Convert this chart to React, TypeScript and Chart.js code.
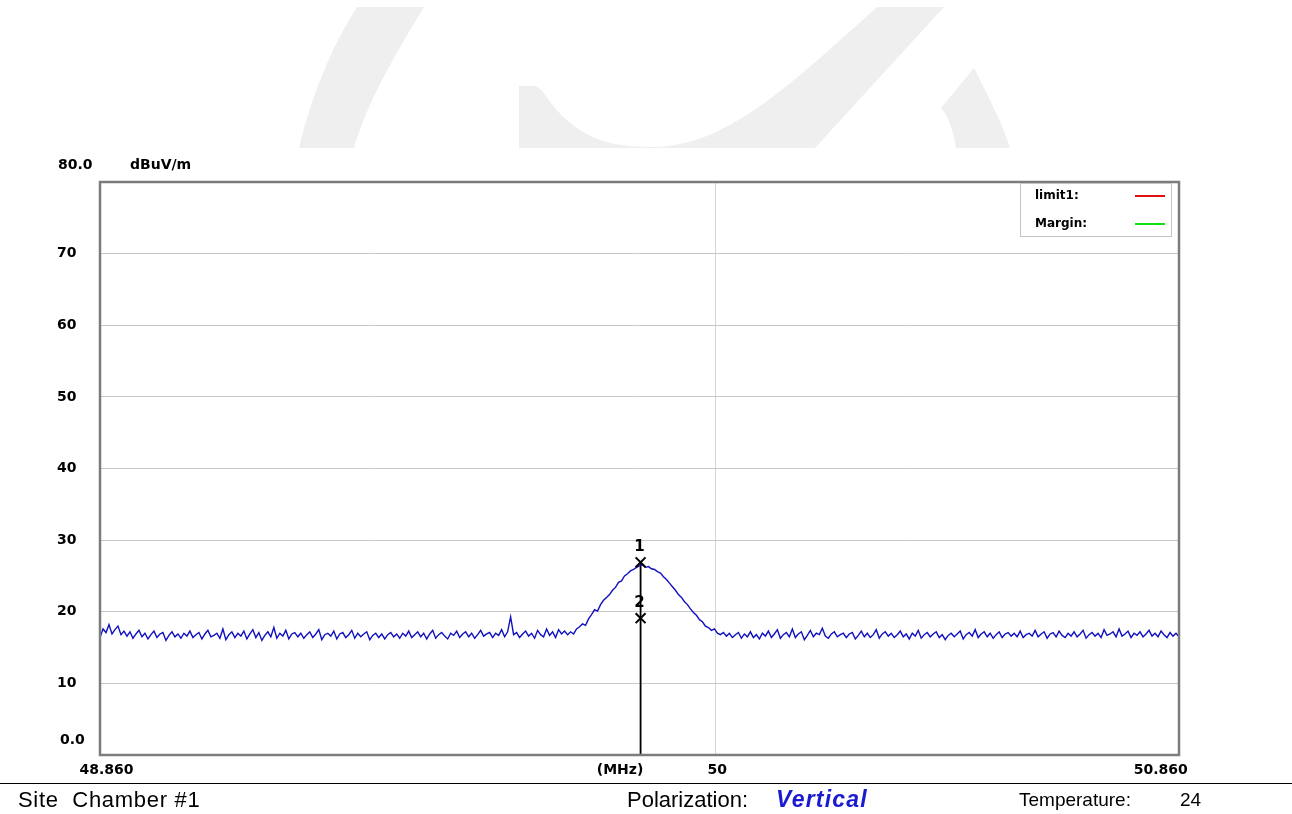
import React, { useEffect, useRef } from "react";
import { Chart, registerables } from "chart.js";

Chart.register(...registerables);

// ---- data ----
const FREQ_START = 48.86;
const FREQ_STOP = 50.86;
const FREQ_GRID = [50];
const X_TICK_LABELS = ["48.860", "(MHz)", "50", "50.860"];
const X_TICK_VALUES = [48.872, 49.824, 50.004, 50.826];
const Y_MIN = 0;
const Y_MAX = 80;
const Y_STEP = 10;
const Y_END_LABELS = ["0.0", "80.0"];
const Y_UNIT = "dBuV/m";

const LEVELS_LEFT = [
  16.4, 17.6, 17.1, 18.2, 16.9, 17.5, 18.0, 16.8, 17.3, 16.6,
  17.2, 16.3, 16.9, 17.4, 16.5, 17.0, 16.2, 16.8, 17.3, 16.4,
  16.9, 17.1, 16.0, 16.7, 17.2, 16.5, 16.9, 16.3, 17.0, 16.6,
  17.3, 16.4, 16.8, 17.1, 16.2, 16.9, 17.4, 16.5, 16.7, 17.0,
  16.3, 17.6, 16.1, 16.8, 17.2, 16.4, 17.0, 16.6, 17.3, 16.2,
  16.9, 17.5, 16.4, 17.1, 16.0, 16.7, 17.2, 16.5, 17.8, 16.3,
  17.0, 16.6, 17.4, 16.2, 16.9, 17.1, 16.5, 17.0, 16.3, 16.8,
  17.2, 16.4, 16.9, 17.5, 16.1, 16.8, 17.0, 16.6, 17.3, 16.2,
  16.9, 17.1, 16.4, 16.8, 17.4, 16.3, 17.0, 16.5, 16.9, 17.2,
  16.1, 16.7, 17.0, 16.4, 16.9, 16.2, 16.8, 17.1, 16.5, 16.9,
  16.3, 17.0, 16.6, 17.3, 16.4, 16.8, 17.2, 16.5, 17.0, 16.2,
  16.9, 17.4, 16.3, 16.8, 17.1, 16.6, 16.2, 17.0, 16.7, 17.3,
  16.4, 16.9, 17.2, 16.5, 17.0, 16.3, 16.8, 17.4, 16.6, 16.9,
  17.1, 16.4, 17.0, 16.7, 17.5, 16.5, 17.2, 19.3, 16.8, 17.1,
  16.4, 16.9, 17.3, 16.6, 17.0, 16.3, 17.4, 16.8, 16.5, 17.6,
  16.7, 17.2, 16.4, 17.5, 16.9, 17.3,
];

const LEVELS_PEAK = [
  16.8, 17.2, 16.9, 17.6, 17.9, 18.3, 18.1, 19.0, 19.6, 20.3,
  20.1, 21.0, 21.6, 22.0, 22.4, 23.0, 23.4, 24.1, 24.3, 25.0,
  25.3, 25.7, 25.9, 26.2, 26.4, 26.6, 26.2, 26.3, 26.0, 25.9,
  25.6, 25.4, 24.9, 24.5, 24.0, 23.5, 23.0, 22.4, 22.0, 21.4,
  21.0, 20.4, 19.9, 19.5, 18.9, 18.6, 18.0, 17.8, 17.4, 17.6,
  17.0, 16.8, 17.1,
];

const LEVELS_RIGHT = [
  16.6, 17.0, 16.4, 16.8, 17.1, 16.3, 16.9, 16.5, 17.2, 16.4,
  16.8, 16.2, 17.0, 16.6, 17.3, 16.4, 16.9, 17.5, 16.3, 16.8,
  17.1, 16.5, 17.6, 16.4, 16.9, 17.2, 16.1, 16.7, 17.4, 16.5,
  17.0, 16.8, 17.7, 16.6, 16.3, 16.9, 17.2, 16.5, 16.8, 17.0,
  16.4, 16.9, 17.1, 16.2, 16.7, 17.3, 16.5, 17.0, 16.4, 16.8,
  17.5, 16.3, 16.9, 17.2, 16.6, 17.0, 16.4, 16.8, 17.3, 16.5,
  16.9, 16.2, 17.0, 16.6, 17.4, 16.3, 16.8, 17.1, 16.5, 16.9,
  17.2, 16.4, 16.8, 16.1, 16.7, 17.0, 16.5, 16.9, 17.3, 16.2,
  16.8, 17.1, 16.6, 17.5, 16.4, 16.9, 17.2, 16.5, 17.0, 16.3,
  16.8, 17.2, 16.4, 16.9, 17.1, 16.6, 17.0, 16.5, 17.3, 16.4,
  16.8, 17.0, 16.6, 17.4, 16.5, 16.9, 17.2, 16.3, 16.9, 17.1,
  16.5, 17.3, 16.7, 16.4, 17.0, 16.6, 17.2, 16.5, 16.9, 17.4,
  16.3, 16.8, 17.1, 16.6, 17.0, 16.4, 17.5, 16.7, 16.9, 17.2,
  16.5, 17.6, 16.6, 16.9, 17.3, 16.4, 17.0, 16.7, 17.2, 16.5,
  16.9, 17.4, 16.6, 17.0, 16.5, 17.3, 16.8, 16.4, 17.1, 16.6,
  17.0, 16.5,
];

const MARKER_NAMES = ["1", "2"];
const MARKER_FREQ = [49.862, 49.862];
const MARKER_LEVEL = [26.9, 19.1];

const LEGEND_NAMES = ["limit1:", "Margin:"];
const LEGEND_COLORS = ["#e01010", "#10e010"];

const FOOTER = {
  site: "Site  Chamber #1",
  polLabel: "Polarization:",
  polValue: "Vertical",
  tempLabel: "Temperature:",
  tempValue: "24",
};

const TRACE_COLOR = "#1010c0";
const AXIS_FONT = 'bold 14px "DejaVu Sans"';

function buildTrace() {
  const levels = [...LEVELS_LEFT, ...LEVELS_PEAK, ...LEVELS_RIGHT];
  const n = levels.length;
  const step = (FREQ_STOP - FREQ_START) / (n - 1);
  return levels.map((y, i) => ({ x: FREQ_START + i * step, y }));
}

const decorPlugin = {
  id: "decor",
  afterDraw(chart: any) {
    const { ctx, chartArea: a, scales } = chart;
    const xs = scales.x;
    const ys = scales.y;
    ctx.save();
    // frame
    ctx.strokeStyle = "#7c7c7c";
    ctx.lineWidth = 2.5;
    ctx.strokeRect(a.left, a.top, a.right - a.left, a.bottom - a.top);

    // y end labels + unit
    ctx.fillStyle = "#000";
    ctx.font = AXIS_FONT;
    ctx.textBaseline = "middle";
    ctx.textAlign = "left";
    ctx.fillText(Y_END_LABELS[1], 58, ys.getPixelForValue(Y_MAX) - 17);
    ctx.fillText(Y_END_LABELS[0], 60, ys.getPixelForValue(Y_MIN) - 15);
    ctx.fillText(Y_UNIT, 130, ys.getPixelForValue(Y_MAX) - 17);

    // x labels
    ctx.textAlign = "center";
    X_TICK_LABELS.forEach((lab, i) => {
      ctx.fillText(lab, xs.getPixelForValue(X_TICK_VALUES[i]), a.bottom + 15);
    });

    // marker numbers
    ctx.font = 'bold 15px "DejaVu Sans"';
    MARKER_NAMES.forEach((name, i) => {
      const px = xs.getPixelForValue(MARKER_FREQ[i]);
      const py = ys.getPixelForValue(MARKER_LEVEL[i]);
      ctx.fillText(name, px - 1, py - 15);
    });

    // legend box
    const bx = a.right - 159;
    const by = a.top + 1;
    ctx.strokeStyle = "#c4c4c4";
    ctx.lineWidth = 1;
    ctx.strokeRect(bx + 0.5, by + 0.5, 151, 53);
    ctx.font = 'bold 12px "DejaVu Sans"';
    ctx.textAlign = "left";
    LEGEND_NAMES.forEach((name, i) => {
      const ly = by + 13 + i * 28;
      ctx.fillStyle = "#000";
      ctx.fillText(name, bx + 15, ly);
      ctx.strokeStyle = LEGEND_COLORS[i];
      ctx.lineWidth = 2;
      ctx.beginPath();
      ctx.moveTo(bx + 115, ly);
      ctx.lineTo(bx + 145, ly);
      ctx.stroke();
    });
    ctx.restore();
  },
};

function Watermark() {
  return (
    <svg
      width={1292}
      height={150}
      style={{ position: "absolute", left: 0, top: 0 }}
    >
      <g fill="#efefef">
        <path d="M 357 7 L 424 7 C 395 55, 368 100, 354 148 L 299 148 C 312 95, 330 50, 357 7 Z" />
        <path d="M 519 86 L 534 86 C 538 87, 541 89, 543 92 C 575 140, 610 147, 653 147 C 730 147, 800 75, 877 7 L 944 7 L 815 148 L 519 148 Z" />
        <path d="M 974 68 C 990 100, 1003 125, 1010 148 L 956 148 C 953 130, 948 115, 941 108 Z" />
      </g>
    </svg>
  );
}

export default function App() {
  const canvasRef = useRef<HTMLCanvasElement | null>(null);

  useEffect(() => {
    const canvas = canvasRef.current;
    if (!canvas) return;
    const trace = buildTrace();
    const markerPts = MARKER_FREQ.map((f, i) => ({ x: f, y: MARKER_LEVEL[i] }));
    const chart = new Chart(canvas, {
      type: "line",
      data: {
        datasets: [
          {
            label: "marker line",
            data: [
              { x: MARKER_FREQ[0], y: MARKER_LEVEL[0] },
              { x: MARKER_FREQ[0], y: Y_MIN },
            ],
            borderColor: "#000",
            borderWidth: 1.8,
            pointRadius: 0,
            order: 2,
          },
          {
            label: "trace",
            data: trace,
            borderColor: TRACE_COLOR,
            borderWidth: 1.4,
            pointRadius: 0,
            tension: 0,
            order: 1,
          },
          {
            label: "markers",
            data: markerPts,
            showLine: false,
            pointStyle: "crossRot",
            pointRadius: 7,
            pointBorderWidth: 2,
            pointBorderColor: "#000",
            pointBackgroundColor: "#000",
            order: 0,
          },
        ],
      },
      options: {
        animation: false,
        responsive: false,
        devicePixelRatio: 1,
        layout: { padding: { left: 57, top: 182, right: 113, bottom: 59 } },
        plugins: {
          legend: { display: false },
          tooltip: { enabled: false },
        },
        scales: {
          x: {
            type: "linear",
            min: FREQ_START,
            max: FREQ_STOP,
            afterBuildTicks: (axis: any) => {
              axis.ticks = FREQ_GRID.map((v) => ({ value: v }));
            },
            afterFit: (axis: any) => {
              axis.height = 0;
            },
            ticks: { display: false },
            grid: { color: "#d6d6d6", drawTicks: false, lineWidth: 1 },
            border: { display: false },
          },
          y: {
            min: Y_MIN,
            max: Y_MAX,
            afterFit: (axis: any) => {
              axis.width = 43;
            },
            ticks: {
              stepSize: Y_STEP,
              crossAlign: "far",
              color: "#000",
              font: { family: "DejaVu Sans", size: 14, weight: "bold" },
              callback: (v: any) => (v === Y_MIN || v === Y_MAX ? "" : String(v)),
            },
            grid: { color: "#c8c8c8", drawTicks: false, lineWidth: 1 },
            border: { display: false },
          },
        },
      },
      plugins: [decorPlugin],
    } as any);
    return () => chart.destroy();
  }, []);

  const footerFont = '"Liberation Sans", Arial, sans-serif';
  return (
    <div
      style={{
        position: "fixed",
        left: 0,
        top: 0,
        width: 1292,
        height: 814,
        background: "#fff",
        overflow: "hidden",
      }}
    >
      <Watermark />
      <canvas
        ref={canvasRef}
        width={1292}
        height={814}
        style={{ position: "absolute", left: 0, top: 0, width: 1292, height: 814 }}
      />
      <div
        style={{
          position: "absolute",
          left: 0,
          top: 783,
          width: 1292,
          height: 1,
          background: "#000",
        }}
      />
      <div style={{ position: "absolute", left: 18, top: 787, fontFamily: footerFont, fontSize: 22, color: "#000", whiteSpace: "pre", letterSpacing: 0.7 }}>
        {FOOTER.site}
      </div>
      <div style={{ position: "absolute", left: 627, top: 787, fontFamily: footerFont, fontSize: 22, color: "#000" }}>
        {FOOTER.polLabel}
      </div>
      <div style={{ position: "absolute", left: 776, top: 786, fontFamily: footerFont, fontSize: 23, fontWeight: "bold", fontStyle: "italic", color: "#1a1ad2", letterSpacing: 1.2 }}>
        {FOOTER.polValue}
      </div>
      <div style={{ position: "absolute", left: 1019, top: 789, fontFamily: footerFont, fontSize: 19, color: "#000" }}>
        {FOOTER.tempLabel}
      </div>
      <div style={{ position: "absolute", left: 1180, top: 789, fontFamily: footerFont, fontSize: 19, color: "#000" }}>
        {FOOTER.tempValue}
      </div>
    </div>
  );
}
